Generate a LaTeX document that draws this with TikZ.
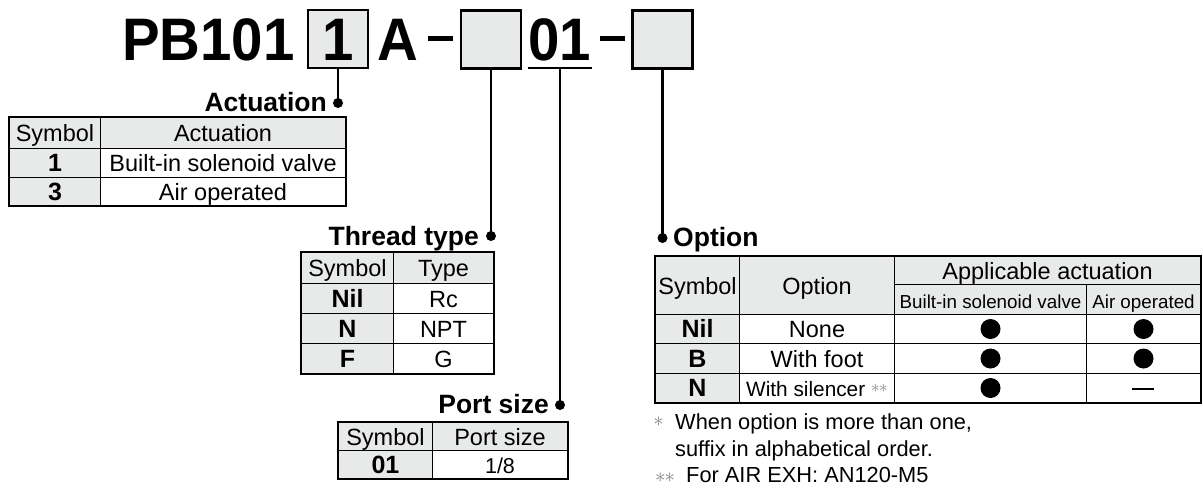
\documentclass[tikz,border=0pt]{standalone}
\usepackage{fontspec}
\setmainfont{Liberation Sans}
\usepackage{graphicx}
\definecolor{hdr}{RGB}{232,233,233}
\definecolor{astgray}{RGB}{130,130,130}
\newcommand\tabfont{\fontsize{23.5}{28}\selectfont}
\newcommand\subfont{\fontsize{18.8}{22}\selectfont}
\newcommand\lblfont{\fontsize{26.5}{30}\selectfont\bfseries}
\newcommand\bigfont{\fontsize{60}{60}\selectfont\bfseries}
\newcommand\notefont{\fontsize{21.8}{26}\selectfont}
\newcommand\symb[1]{{\fontsize{25}{28}\selectfont\bfseries #1}}
\newcommand\astmark[1]{\textcolor{astgray}{\fontsize{#1}{#1}\selectfont$\ast$}}
\newcommand\cell[7]{\node[cell,fill=#6,minimum width={#4-#2},minimum height={#5-#3}] (#1) at (#2,#3) {#7};}
\tikzset{
  cell/.style={draw=black, line width=1pt, inner sep=0pt, anchor=north west, text height=17pt, text depth=0pt, font=\tabfont},
  outer/.style={draw=black, line width=1.8pt},
  tbox/.style={draw=black, fill=hdr, line width=2.4pt, minimum width=60, minimum height=58, inner sep=0pt, text height=43pt, text depth=0pt, font=\bigfont},
  big/.style={inner sep=0pt, anchor=base west, font=\bigfont},
  lbl/.style={inner sep=0pt, font=\lblfont},
  conn/.style={line width=2.2pt},
  pin/.style={circle, fill=black, inner sep=0pt, minimum size=10},
  bullet/.style={circle, fill=black, inner sep=0pt, minimum size=20},
  note/.style={inner sep=0pt, anchor=base west, font=\notefont},
  ast/.style={inner sep=0pt},
}
\begin{document}
\begin{tikzpicture}[x=1pt,y=-1pt]
\useasboundingbox (0,0) rectangle (1203,488);

% ---- model code ----
\node[big] (pb) at (122,60) {\scalebox{0.94}[1]{PB101}};
\node[tbox] (b1) at (338,39) {\scalebox{0.94}[1]{1}};
\node[big] (ca) at (377,60) {\scalebox{0.94}[1]{A}};
\coordinate (h1a) at (428,38); \coordinate (h1b) at (453,38);
\draw[line width=5pt] (h1a) -- (h1b);
\node[tbox] (b2) at (491,39.5) {};
\node[big] (c01) at (528,60) {\scalebox{0.94}[1]{01}};
\coordinate (ul1) at (528,68); \coordinate (ul2) at (592,68); \coordinate (u) at (560,68);
\draw[line width=2pt] (ul1) -- (ul2);
\coordinate (h2a) at (600,38); \coordinate (h2b) at (625,38);
\draw[line width=5pt] (h2a) -- (h2b);
\node[tbox] (b3) at (662.5,39.5) {};

% ---- pins and labels ----
\node[pin] (d1) at (338,103) {};
\node[pin] (d2) at (491,236) {};
\node[pin] (d3) at (560,405) {};
\node[pin] (d4) at (662.5,238) {};
\draw[conn] (b1.south) -- (d1.center);
\draw[conn] (b2.south) -- (d2.center);
\draw[conn] (u) -- (d3.center);
\draw[conn] (b3.south) -- (d4.center);
\node[lbl, anchor=base east] (l1) at (327,111) {Actuation};
\node[lbl, anchor=base east] (l2) at (479,245) {Thread type};
\node[lbl, anchor=base east] (l3) at (549,413) {Port size};
\node[lbl, anchor=base west] (l4) at (673,246) {Option};

% ---- Actuation table ----
\cell{a11}{9}{117}{100}{148}{hdr}{Symbol}
\cell{a12}{100}{117}{345}{148}{hdr}{Actuation}
\cell{a21}{9}{148}{100}{177}{hdr}{\symb{1}}
\cell{a22}{100}{148}{345}{177}{white}{Built-in solenoid valve}
\cell{a31}{9}{177}{100}{205}{hdr}{\symb{3}}
\cell{a32}{100}{177}{345}{205}{white}{Air operated}
\draw[outer] (a11.north west) rectangle (a32.south east);

% ---- Thread type table ----
\cell{t11}{301}{252}{393}{283}{hdr}{Symbol}
\cell{t12}{393}{252}{493}{283}{hdr}{Type}
\cell{t21}{301}{283}{393}{313}{hdr}{\symb{Nil}}
\cell{t22}{393}{283}{493}{313}{white}{Rc}
\cell{t31}{301}{313}{393}{343}{hdr}{\symb{N}}
\cell{t32}{393}{313}{493}{343}{white}{NPT}
\cell{t41}{301}{343}{393}{373}{hdr}{\symb{F}}
\cell{t42}{393}{343}{493}{373}{white}{G}
\draw[outer] (t11.north west) rectangle (t42.south east);

% ---- Port size table ----
\cell{p11}{338}{422}{432}{450}{hdr}{Symbol}
\cell{p12}{432}{422}{567}{450}{hdr}{Port size}
\cell{p21}{338}{450}{432}{478}{hdr}{\symb{01}}
\cell{p22}{432}{450}{567}{478}{white}{\fontsize{21.5}{25}\selectfont 1/8}
\draw[outer] (p11.north west) rectangle (p22.south east);

% ---- Option table ----
\cell{o11}{655}{256}{739}{314}{hdr}{Symbol}
\cell{o12}{739}{256}{894}{314}{hdr}{Option}
\cell{o13}{894}{256}{1200}{284}{hdr}{Applicable actuation}
\cell{o14}{894}{284}{1086}{314}{hdr}{\subfont Built-in solenoid valve}
\cell{o15}{1086}{284}{1200}{314}{hdr}{\subfont Air operated}
\cell{o21}{655}{314}{739}{343}{hdr}{\symb{Nil}}
\cell{o22}{739}{314}{894}{343}{white}{None}
\cell{o23}{894}{314}{1086}{343}{white}{}
\cell{o24}{1086}{314}{1200}{343}{white}{}
\cell{o31}{655}{343}{739}{373}{hdr}{\symb{B}}
\cell{o32}{739}{343}{894}{373}{white}{With foot}
\cell{o33}{894}{343}{1086}{373}{white}{}
\cell{o34}{1086}{343}{1200}{373}{white}{}
\cell{o41}{655}{373}{739}{402}{hdr}{\symb{N}}
\cell{o42}{739}{373}{894}{402}{white}{\fontsize{20.8}{24}\selectfont With silencer \raisebox{4pt}{\astmark{16}\kern-0.5pt\astmark{16}}}
\cell{o43}{894}{373}{1086}{402}{white}{}
\cell{o44}{1086}{373}{1200}{402}{white}{}
\draw[outer] (o11.north west) rectangle (o44.south east);
\node[bullet] (m23) at (o23.center) {};
\node[bullet] (m24) at (o24.center) {};
\node[bullet] (m33) at (o33.center) {};
\node[bullet] (m34) at (o34.center) {};
\node[bullet] (m43) at (o43.center) {};
\coordinate (na) at (1132,389); \coordinate (nb) at (1154,389);
\draw[line width=1.5pt] (na) -- (nb);

% ---- notes ----
\node[ast] (s1) at (658.5,422) {\astmark{21}};
\node[note] (n1) at (675,429) {When option is more than one,};
\node[note] (n2) at (675,456) {suffix in alphabetical order.};
\node[ast] (s2) at (665,478) {\astmark{21}\kern-1pt\astmark{21}};
\node[note] (n3) at (686,482) {For AIR EXH: AN120-M5};
\end{tikzpicture}
\end{document}
